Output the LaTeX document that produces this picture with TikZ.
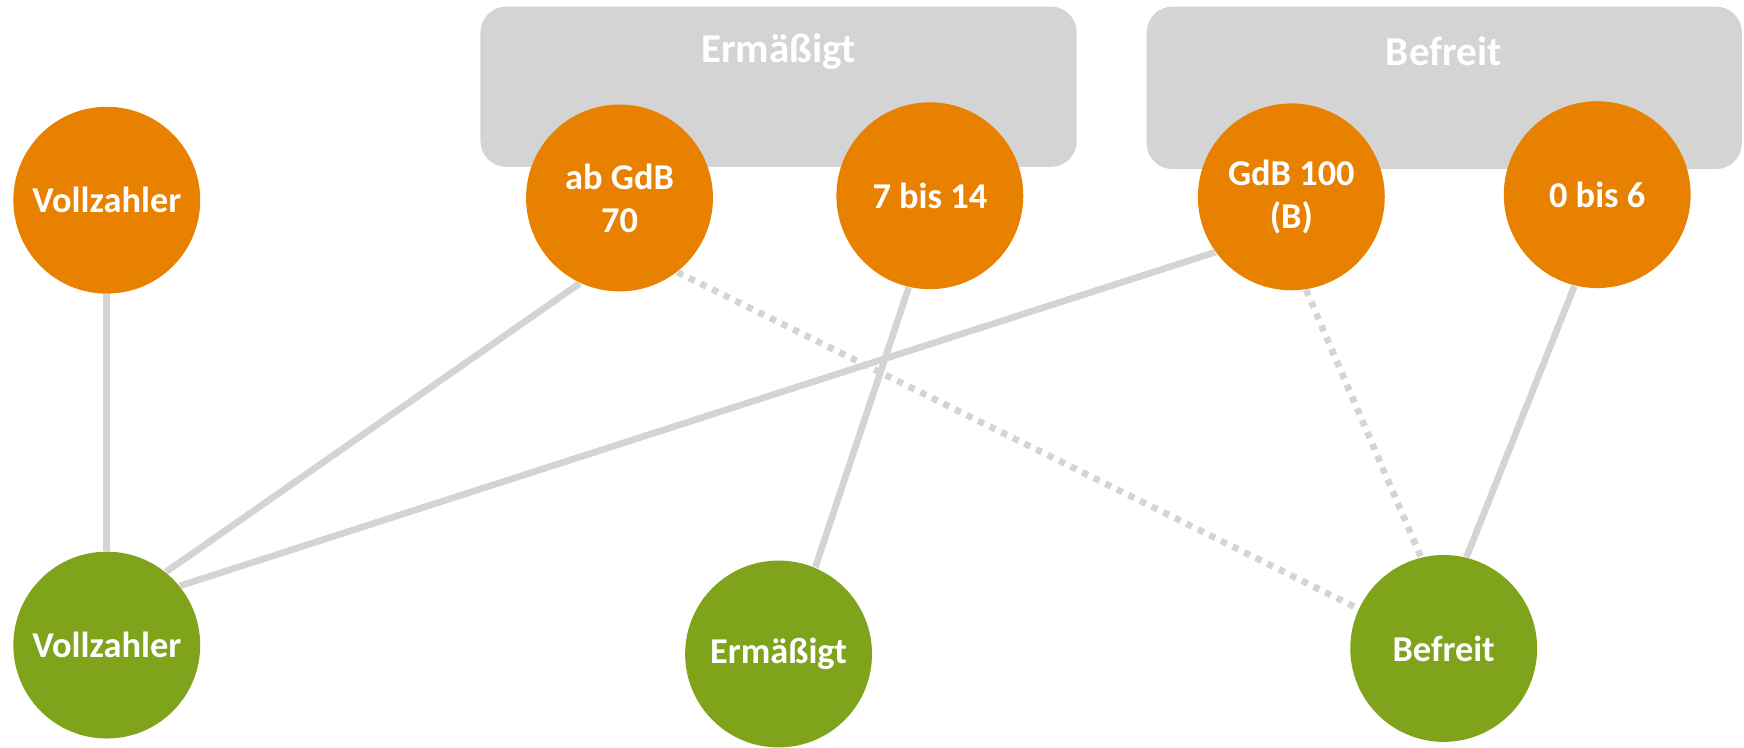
\documentclass[tikz,border=0pt]{standalone}
\usepackage{fontspec}
\setmainfont{Carlito}
\definecolor{tarifOrange}{HTML}{E88000}
\definecolor{tarifGreen}{HTML}{7FA31B}
\definecolor{tarifGray}{HTML}{D4D4D4}
\tikzset{
  tarif/.style={circle,fill=tarifOrange,text=white,font=\fontsize{9.3}{11}\selectfont\bfseries,
    minimum size=1.68cm,inner sep=0pt,align=center},
  kategorie/.style={tarif,fill=tarifGreen},
  gruppe/.style={fill=tarifGray,rounded corners=0.23cm,inner sep=0pt},
  titel/.style={text=white,font=\fontsize{10.5}{12}\selectfont\bfseries},
  link/.style={draw=tarifGray,line width=1.7pt},
  weaklink/.style={link,dash pattern=on 1.6pt off 1.7pt}
}
\begin{document}
\begin{tikzpicture}
\useasboundingbox (0,0) rectangle (15.68,6.725);
% groups
\node[gruppe,minimum width=5.36cm,minimum height=1.44cm] (ermbox) at (7.00,5.945) {};
\node[gruppe,minimum width=5.35cm,minimum height=1.46cm] (befbox) at (12.985,5.935) {};
\node[titel] (ermtitel) at (7.00,6.26) {Ermäßigt};
\node[titel] (beftitel) at (12.98,6.26) {Befreit};
% tarife
\node[tarif] (voll) at (0.96,4.925) {Vollzahler};
\node[tarif] (gdb70) at (5.57,4.945) {ab GdB\\70};
\node[tarif] (kind) at (8.36,4.965) {7 bis 14};
\node[tarif] (gdb100) at (11.61,4.955) {GdB 100\\(B)};
\node[tarif] (klein) at (14.36,4.975) {0 bis 6};
% kategorien
\node[kategorie] (kvoll) at (0.96,0.925) {Vollzahler};
\node[kategorie] (kerm) at (7.00,0.845) {Ermäßigt};
\node[kategorie] (kbef) at (12.98,0.895) {Befreit};
% zuordnung
\draw[link] (voll.south) -- (kvoll.north);
\draw[link] (gdb70.245) -- (kvoll.51);
\draw[link] (gdb100.216) -- (kvoll.39);
\draw[link] (kind.257) -- (kerm.67);
\draw[link] (klein.256) -- (kbef.76);
\draw[weaklink] (gdb70.308) -- (kbef.155);
\draw[weaklink] (gdb100.279) -- (kbef.104);
\end{tikzpicture}
\end{document}
